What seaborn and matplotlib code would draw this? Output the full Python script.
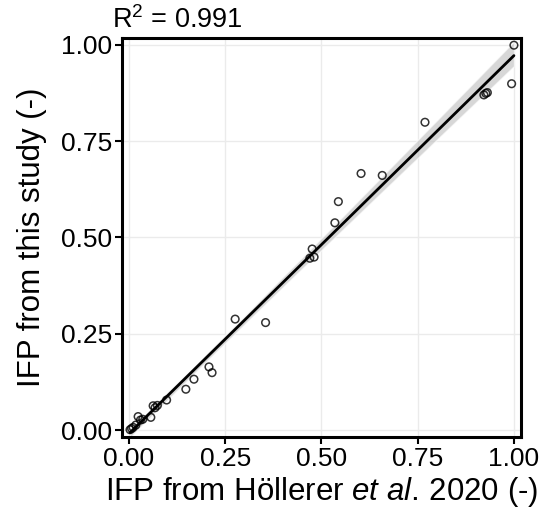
import matplotlib
matplotlib.use("Agg")
import matplotlib.pyplot as plt
import seaborn as sns
import numpy as np
import pandas as pd

# IFP values
ifp_hollerer = [0.003, 0.007, 0.011, 0.018, 0.024, 0.030, 0.036, 0.057, 0.063, 0.068,
                0.074, 0.098, 0.148, 0.169, 0.208, 0.216, 0.276, 0.355, 0.470, 0.476,
                0.481, 0.535, 0.544, 0.603, 0.658, 0.769, 0.922, 0.927, 0.931, 0.994, 1.000]
ifp_study = [0.001, 0.004, 0.007, 0.013, 0.035, 0.026, 0.028, 0.033, 0.063, 0.058,
             0.064, 0.078, 0.106, 0.132, 0.164, 0.149, 0.288, 0.279, 0.446, 0.470,
             0.449, 0.538, 0.593, 0.666, 0.661, 0.799, 0.870, 0.874, 0.876, 0.899, 0.999]
r2_text = "R$^2$ = 0.991"
tick_vals = [0.0, 0.25, 0.5, 0.75, 1.0]
tick_labels = ["0.00", "0.25", "0.50", "0.75", "1.00"]

df = pd.DataFrame({"x": ifp_hollerer, "y": ifp_study})

sns.set_theme(style="whitegrid")
plt.rcParams['font.family'] = ['Liberation Sans', 'DejaVu Sans']
plt.rcParams['mathtext.fontset'] = 'custom'
plt.rcParams['mathtext.rm'] = 'Liberation Sans'
plt.rcParams['mathtext.it'] = 'Liberation Sans:italic'

fig = plt.figure(figsize=(5.42, 5.19), dpi=100)
ax = fig.add_axes([0.225, 0.158, 0.736, 0.769])

sns.regplot(data=df, x="x", y="y", ax=ax, ci=95,
            scatter_kws=dict(s=30, facecolors="none", edgecolors="black", linewidths=1.1, zorder=3),
            line_kws=dict(color="black", lw=2.0, zorder=4), color="black")
# lighten CI band
for coll in ax.collections[1:]:
    coll.set_facecolor("#bdbdbd")
    coll.set_alpha(0.6)

ax.set_xlim(-0.018, 1.018)
ax.set_ylim(-0.018, 1.018)
ax.set_xticks(tick_vals)
ax.set_xticklabels(tick_labels)
ax.set_yticks(tick_vals)
ax.set_yticklabels(tick_labels)
ax.grid(True, color="#ebebeb", lw=1.0)
ax.set_facecolor("white")
for s in ax.spines.values():
    s.set_color("black")
    s.set_linewidth(2.2)
    s.set_visible(True)
ax.tick_params(axis="both", which="both", direction="out", length=5, width=1.5,
               color="black", labelsize=19, labelcolor="black", pad=2,
               bottom=True, left=True)
ax.set_xlabel("IFP from Höllerer $\\it{et\\ al.}\\,$2020 (-)", fontsize=22.5, color="black", labelpad=3)
ax.set_ylabel("IFP from this study (-)", fontsize=22.5, color="black", labelpad=10)

fig.text(112 / 542, 1 - 20 / 519, r2_text, fontsize=19.5, color="black", ha="left", va="center")

fig.savefig("out.png", dpi=100)
